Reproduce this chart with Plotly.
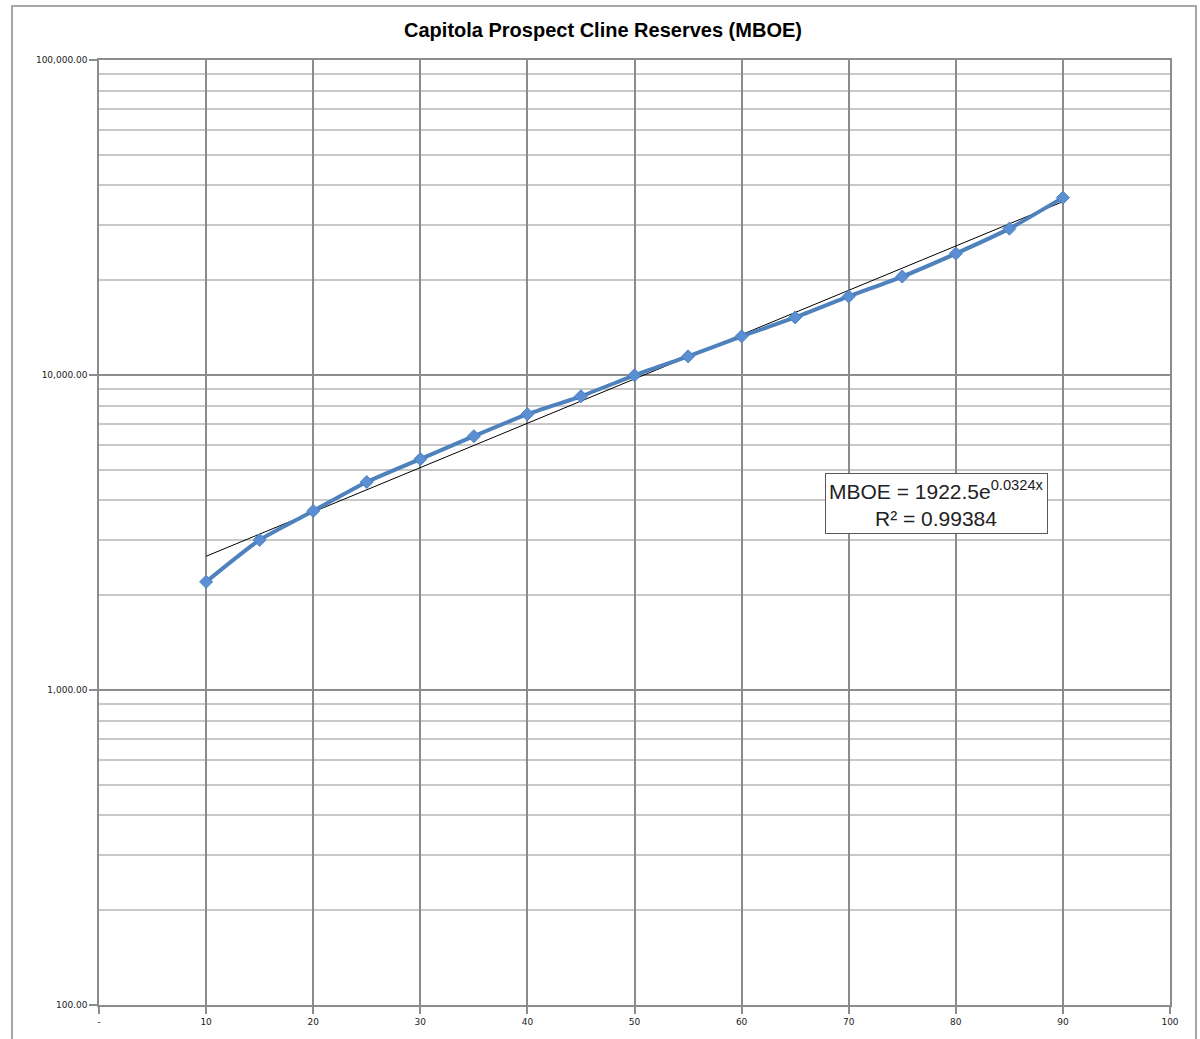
import numpy as np
import plotly.graph_objects as go

# Data
percentile = [10, 15, 20, 25, 30, 35, 40, 45, 50, 55, 60, 65, 70, 75, 80, 85, 90]
mboe = [2205, 2995, 3701, 4573, 5408, 6394, 7508, 8560, 9977, 11460, 13263,
        15234, 17756, 20538, 24297, 29150, 36560]

# Trendline from the displayed fit: MBOE = 1922.5 e^(0.0324x)
fit_a = 1922.5
fit_b = 0.0324
trend_x = [10, 20, 30, 40, 50, 60, 70, 80, 90]
trend_y = [fit_a * np.exp(fit_b * x) for x in trend_x]

x_ticks = [0, 10, 20, 30, 40, 50, 60, 70, 80, 90, 100]
x_tick_text = ["-", "10", "20", "30", "40", "50", "60", "70", "80", "90", "100"]
y_ticks = [100, 1000, 10000, 100000]
y_tick_text = ["100.00", "1,000.00", "10,000.00", "100,000.00"]
y_minor = [k * 10 ** p for p in range(2, 5) for k in range(2, 10)]

W, H = 1200, 1039
L, R, T, B = 99, 30, 60, 32
pw = W - L - R
ph = H - T - B

def px_x(p):
    return (p - L) / pw

def px_y(p):
    return (H - B - p) / ph

fig = go.Figure()

fig.add_trace(go.Scatter(
    x=trend_x, y=trend_y, mode="lines",
    line=dict(color="black", width=1),
    showlegend=False, hoverinfo="skip"))

fig.add_trace(go.Scatter(
    x=percentile, y=mboe, mode="lines+markers",
    line=dict(color="#4f81bd", width=4, shape="spline", smoothing=0.6),
    marker=dict(symbol="diamond", size=10, color="#5b8fd4",
                line=dict(color="#4f81bd", width=1)),
    showlegend=False))

fig.update_layout(
    width=W, height=H,
    margin=dict(l=L, r=R, t=T, b=B),
    paper_bgcolor="white", plot_bgcolor="white",
    title=dict(text="<b>Capitola Prospect Cline Reserves (MBOE)</b>",
               x=(603) / W, xanchor="center", y=1 - 30 / H, yanchor="middle",
               font=dict(family="Liberation Sans", size=20, color="black")),
    font=dict(family="DejaVu Sans", size=9, color="#222"),
)

fig.update_xaxes(
    range=[0, 100], tickvals=x_ticks, ticktext=x_tick_text,
    showgrid=True, gridcolor="#8c8c8c", gridwidth=1.5,
    showline=True, linecolor="#8c8c8c", linewidth=1.5, mirror=True,
    ticks="outside", ticklen=7, tickcolor="#8c8c8c", tickwidth=1.5,
    tickfont=dict(family="DejaVu Sans", size=9, color="#222"),
    zeroline=False,
)

fig.update_yaxes(
    type="log", range=[2, 5], tickvals=y_ticks, ticktext=y_tick_text,
    showgrid=True, gridcolor="#8c8c8c", gridwidth=1.5,
    showline=True, linecolor="#8c8c8c", linewidth=1.5, mirror=True,
    ticks="outside", ticklen=8, tickcolor="#8c8c8c", tickwidth=1.5,
    tickfont=dict(family="DejaVu Sans", size=9, color="#222"),
    minor=dict(tickvals=y_minor, showgrid=True, gridcolor="#c8c8c8",
               gridwidth=1.5, ticks=""),
    zeroline=False,
)

# Equation box
fig.add_annotation(
    x=78.2, y=np.log10(3923), xref="x", yref="y",
    text="MBOE = 1922.5e<sup>0.0324x</sup><br>R² = 0.99384",
    showarrow=False, align="center",
    font=dict(family="Liberation Sans", size=21, color="#222"),
    bordercolor="#595959", borderwidth=1, borderpad=3, bgcolor="white",
)

# Clipped y-axis title at left edge
fig.add_annotation(
    x=px_x(3), y=px_y(522), xref="paper", yref="paper",
    text="<b>MBOE</b>", textangle=-90, showarrow=False,
    xanchor="right", yanchor="middle",
    font=dict(family="Liberation Sans", size=16, color="#3a62a8"),
)

# Chart area border (partially visible)
fig.add_shape(
    type="rect", xref="paper", yref="paper",
    x0=px_x(12), x1=px_x(1196), y0=px_y(1060), y1=px_y(6),
    line=dict(color="#a6a6a6", width=2), fillcolor="rgba(0,0,0,0)", layer="below",
)

fig.write_html("out.html",
               config={"displayModeBar": False},
               post_script="document.body.style.margin='0';document.body.style.overflow='hidden';")
